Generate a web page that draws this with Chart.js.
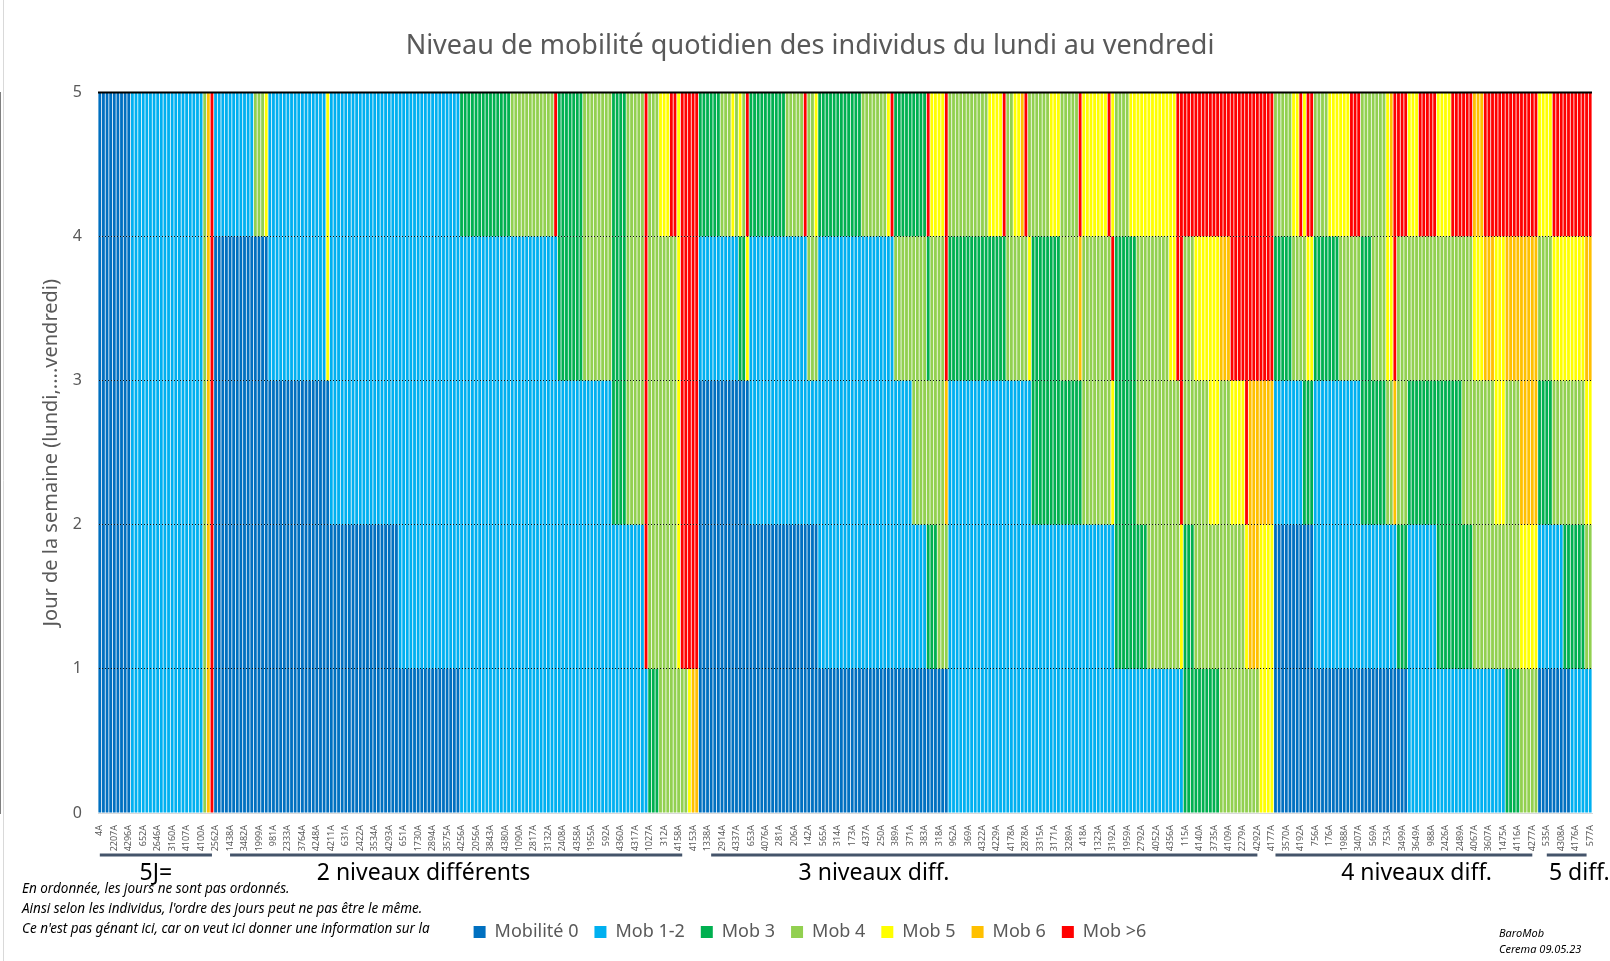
<!DOCTYPE html>
<html lang="fr">
<head>
<meta charset="utf-8">
<title>Niveau de mobilité quotidien</title>
<script src="https://cdn.jsdelivr.net/npm/chart.js@4.4.1/dist/chart.umd.min.js"></script>
<style>
    html, body { margin: 0; padding: 0; background: #ffffff; }
    #wrap { position: relative; width: 1610px; height: 961px; }
</style>
</head>
<body>
<div id="wrap"><canvas id="mobChart" width="1610" height="961"></canvas></div>
<script>
// niveaux de mobilité (légende)
const niveaux = ['Mobilité 0', 'Mob 1-2', 'Mob 3', 'Mob 4', 'Mob 5', 'Mob 6', 'Mob >6'];
const couleurs = ['#0070C0', '#00B0F0', '#00B050', '#92D050', '#FFFF00', '#FFC000', '#FF0000'];

// les 5 jours empilés (jour 1 en bas)
const jours = ['Jour 1', 'Jour 2', 'Jour 3', 'Jour 4', 'Jour 5'];

// profils : un chiffre = niveau du jour (index dans niveaux), du bas vers le haut
const profils = [
    // 5J=
    '00000', '11111', '33333', '55555', '66666',
    // 2 niveaux différents
    '00001', '00003', '00004', '00011', '00044', '00111', '01111', '11112', '11113', '11116',
    '11122', '11133', '11222', '11333', '16666', '23333', '33334', '33336', '34444', '36666',
    '46666', '56666',
    // 3 niveaux diff.
    '00012', '00013', '00014', '00013', '00024', '00023', '00046', '00112', '00113', '00116',
    '00133', '00134', '01112', '01113', '01114', '01116', '01132', '01332', '02326', '02334',
    '03334', '03566', '11123', '11124', '11126', '11133', '11134', '11135', '11136', '11143',
    '11223', '11224', '11233', '11256', '11334', '11336', '11464', '12223', '12224', '12334',
    '13334', '13344', '13366', '14666', '22336', '23346', '23446', '33356', '33466', '34666',
    '35566', '44566',
    // 4 niveaux diff.
    '00123', '00134', '00136', '00234', '00246', '01123', '01124', '01134', '01136', '01223',
    '01233', '01344', '01345', '01566', '02336', '11234', '11236', '12234', '12236', '12336',
    '13345', '13356', '13446', '23356', '34556',
    // 5 diff.
    '01234', '01346', '02346', '12346', '13456'
];
// nombre d'individus consécutifs pour chaque profil
const effectifs = [
    9, 20, 1, 1, 1,
    11, 3, 1, 16, 1, 19, 17, 14, 12, 1,
    7, 8, 4, 5, 1, 3, 3, 2, 1, 2,
    1, 2,
    6, 3, 1, 1, 1, 1, 1, 10, 5, 1,
    2, 1, 12, 7, 1, 1, 5, 4, 1, 2,
    2, 1, 11, 4, 1, 2, 2, 1, 1, 1,
    5, 3, 5, 1, 7, 1, 1, 4, 2, 3,
    6, 2, 1, 1, 3, 4, 3, 3, 4, 1,
    3, 4,
    5, 2, 1, 1, 2, 4, 3, 3, 3, 3,
    4, 1, 1, 1, 3, 3, 5, 4, 3, 3,
    3, 3, 3, 4, 5,
    4, 3, 2, 4, 2
];

// identifiants affichés (un sur quatre)
const etiquettes = [
    '4A', '2207A', '4296A', '652A', '2646A', '3160A', '4107A', '4100A', '2562A', '1438A',
    '3482A', '1999A', '981A', '2333A', '3764A', '4248A', '4211A', '631A', '2422A', '3534A',
    '4293A', '651A', '1730A', '2894A', '3575A', '4256A', '2056A', '3843A', '4380A', '1090A',
    '2817A', '3132A', '2408A', '4358A', '1955A', '592A', '4360A', '4317A', '1027A', '312A',
    '4158A', '4153A', '1338A', '2914A', '4337A', '653A', '4076A', '281A', '206A', '142A',
    '565A', '314A', '173A', '437A', '250A', '389A', '371A', '383A', '318A', '962A',
    '369A', '4322A', '4229A', '4178A', '2878A', '3315A', '3171A', '3289A', '418A', '1323A',
    '3192A', '1959A', '2792A', '4052A', '4356A', '115A', '4140A', '3735A', '4109A', '2279A',
    '4292A', '4177A', '3570A', '4192A', '756A', '176A', '1988A', '3407A', '569A', '753A',
    '3499A', '3649A', '988A', '2426A', '2489A', '4067A', '3607A', '1475A', '4116A', '4277A',
    '535A', '4308A', '4176A', '577A'
];

// groupes sous l'axe (indices d'individus)
const groupes = ['5J=', '2 niveaux différents', '3 niveaux diff.', '4 niveaux diff.', '5 diff.'];
const groupesDebut = [0, 36, 169, 325, 400];
const groupesFin = [31, 161, 320, 396, 411];
const groupesCentre = [15.5, 89.5, 214, 364, 409];

const notes = [
    'En ordonnée, les jours ne sont pas ordonnés.',
    "Ainsi selon les individus, l'ordre des jours peut ne pas être le même.",
    "Ce n'est pas génant ici, car on veut ici donner une information sur la"
];
const credits = ['BaroMob', 'Cerema 09.05.23'];

// une colonne par individu
const colonnes = [];
profils.forEach((p, i) => {
    for (let k = 0; k < effectifs[i]; k++) colonnes.push(p);
});
const categories = colonnes.map((c, i) => (i % 4 === 0 ? etiquettes[i / 4] : ''));

Chart.defaults.font.family = "'Noto Sans', 'Open Sans', sans-serif";
Chart.defaults.color = '#595959';

const annotations = {
    id: 'annotations',
    afterDraw(chart) {
        const ctx = chart.ctx;
        const x = chart.scales.x;
        const y = chart.scales.y;
        const area = chart.chartArea;
        ctx.save();

        // ligne pleine en haut (5)
        ctx.strokeStyle = '#000000';
        ctx.lineWidth = 2;
        ctx.beginPath();
        ctx.moveTo(area.left, y.getPixelForValue(5));
        ctx.lineTo(area.right, y.getPixelForValue(5));
        ctx.stroke();

        // cadre à gauche
        ctx.strokeStyle = '#d9d9d9';
        ctx.lineWidth = 1;
        ctx.beginPath();
        ctx.moveTo(3.5, 0);
        ctx.lineTo(3.5, chart.height);
        ctx.stroke();

        // groupes
        const lineY = area.bottom + 42;
        ctx.strokeStyle = '#44546A';
        ctx.lineWidth = 3;
        groupes.forEach((g, i) => {
            ctx.beginPath();
            ctx.moveTo(x.getPixelForValue(groupesDebut[i]), lineY);
            ctx.lineTo(x.getPixelForValue(groupesFin[i]), lineY);
            ctx.stroke();
        });
        ctx.fillStyle = '#000000';
        ctx.font = "23px 'Noto Sans', sans-serif";
        ctx.textAlign = 'center';
        ctx.textBaseline = 'middle';
        groupes.forEach((g, i) => {
            ctx.fillText(g, x.getPixelForValue(groupesCentre[i]), lineY + 18);
        });

        // notes
        ctx.font = "italic 13.5px 'Noto Sans', sans-serif";
        ctx.textAlign = 'left';
        notes.forEach((n, i) => {
            ctx.fillText(n, 22, area.bottom + 76 + i * 20);
        });

        // crédits
        ctx.font = "italic 11px 'Noto Sans', sans-serif";
        credits.forEach((c, i) => {
            ctx.fillText(c, 1499, area.bottom + 121 + i * 16);
        });
        ctx.restore();
    }
};

new Chart(document.getElementById('mobChart'), {
    type: 'bar',
    data: {
        labels: categories,
        datasets: jours.map((j, d) => ({
            label: j,
            data: colonnes.map(() => 1),
            backgroundColor: colonnes.map(p => couleurs[Number(p[d])]),
            borderWidth: 0,
            barPercentage: 0.78,
            categoryPercentage: 1
        }))
    },
    options: {
        responsive: false,
        animation: false,
        layout: { padding: { left: 28, right: 18, top: 0, bottom: 10 } },
        plugins: {
            title: {
                display: true,
                text: 'Niveau de mobilité quotidien des individus du lundi au vendredi',
                color: '#595959',
                font: { size: 27, weight: 'normal' },
                padding: { top: 30, bottom: 30 }
            },
            legend: {
                position: 'bottom',
                labels: {
                    font: { size: 18 },
                    color: '#595959',
                    boxWidth: 12,
                    boxHeight: 12,
                    padding: 16,
                    generateLabels: () => niveaux.map((n, i) => ({
                        text: n,
                        fillStyle: couleurs[i],
                        strokeStyle: couleurs[i],
                        lineWidth: 0,
                        hidden: false,
                        fontColor: '#595959'
                    }))
                },
                onClick: () => {}
            },
            tooltip: { enabled: false }
        },
        scales: {
            x: {
                stacked: true,
                grid: { display: false },
                border: { color: '#d9d9d9' },
                ticks: {
                    autoSkip: false,
                    maxRotation: 90,
                    minRotation: 90,
                    padding: 4,
                    color: '#595959',
                    font: { size: 9 }
                },
                afterFit: (scale) => { scale.height = 94; }
            },
            y: {
                stacked: true,
                min: 0,
                max: 5,
                ticks: { stepSize: 1, padding: 16, font: { size: 16 }, color: '#595959' },
                grid: {
                    z: 1,
                    drawTicks: false,
                    color: (c) => (c.tick.value === 0 ? 'rgba(0,0,0,0)' : '#111111'),
                    lineWidth: 1
                },
                border: { color: '#000000', dash: [1, 2] },
                title: {
                    display: true,
                    text: 'Jour de la semaine (lundi,....vendredi)',
                    color: '#595959',
                    font: { size: 20 },
                    padding: { top: 11, bottom: 0 }
                },
                afterFit: (scale) => { scale.width = 70; }
            }
        }
    },
    plugins: [annotations]
});
</script>
</body>
</html>
